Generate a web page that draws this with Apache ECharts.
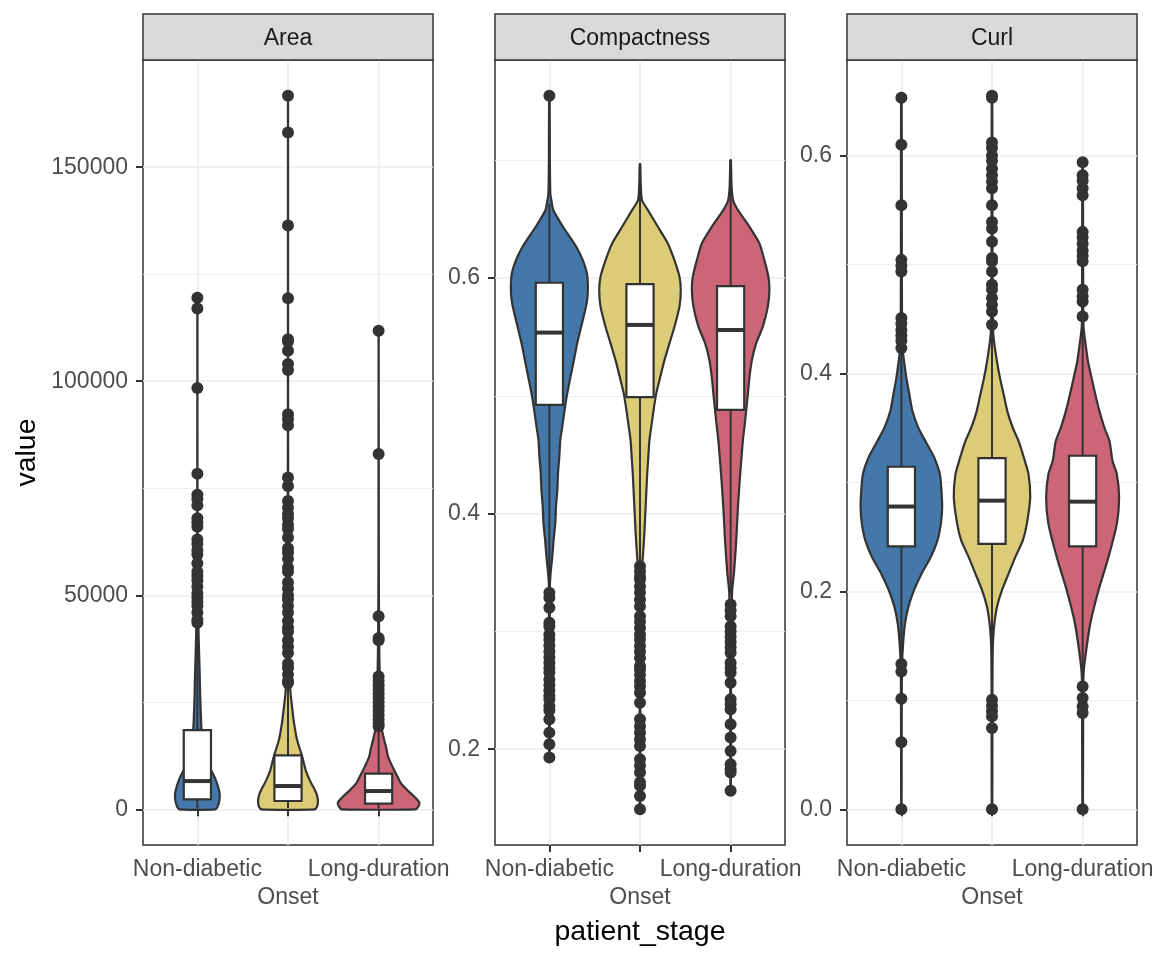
<!DOCTYPE html>
<html>
<head>
<meta charset="utf-8">
<script src="https://cdn.jsdelivr.net/npm/echarts@6/dist/echarts.min.js"></script>
<style>
html,body{margin:0;padding:0;background:#ffffff;}
#chart{width:1152px;height:960px;}
</style>
</head>
<body>
<div id="chart"></div>
<script>
// ---------------- DATA ----------------
const stages = ['Non-diabetic', 'Onset', 'Long-duration'];
const stagePos = [1, 2, 3];
const facetNames = ['Area', 'Compactness', 'Curl'];
const xTitle = 'patient_stage';
const yTitle = 'value';

// y-axis breaks (major / minor)
const areaBreaks = [0, 50000, 100000, 150000];
const areaMinor = [25000, 75000, 125000];
const compBreaks = [0.2, 0.4, 0.6];
const compMinor = [0.3, 0.5, 0.7];
const curlBreaks = [0.0, 0.2, 0.4, 0.6];
const curlMinor = [0.1, 0.3, 0.5];

// boxplot stats: [lower whisker, Q1, median, Q3, upper whisker] per stage
const areaBox = [[200, 2330, 6600, 18500, 42800], [300, 1940, 5440, 12600, 28500], [200, 1330, 4270, 8330, 18500]];
const compBox = [[0.337, 0.4924, 0.5537, 0.596, 0.6633], [0.356, 0.4989, 0.5602, 0.5949, 0.6966], [0.331, 0.4881, 0.5559, 0.5932, 0.70]];
const curlBox = [[0.136, 0.2413, 0.2779, 0.3144, 0.42], [0.128, 0.2437, 0.2833, 0.3223, 0.44], [0.12, 0.2413, 0.2824, 0.3245, 0.448]];

// outliers per stage
const areaOutNonDiabetic = [119500, 117000, 98400, 78400, 73500, 72500, 71000, 68000, 67000, 66000, 63000, 62000, 60500, 59500, 57500, 55500, 54500, 53500, 52000, 50500, 49500, 48500, 47500, 46000, 44300, 43600];
const areaOutOnset = [166700, 158100, 136400, 119400, 109800, 109300, 107100, 104000, 102600, 92300, 91100, 89700, 77500, 75500, 72000, 70500, 69000, 68000, 66500, 65500, 63500, 61000, 60000, 58500, 56500, 55500, 53000, 51500, 50000, 49000, 47500, 46000, 44000, 42500, 41500, 39500, 38000, 36500, 34000, 33000, 31500, 30000, 29500];
const areaOutLong = [111800, 83000, 45100, 40000, 39500, 31000, 30000, 29000, 28000, 27000, 26000, 25000, 24000, 23000, 22000, 21000, 20000, 19400];

const compOutNonDiabetic = [0.7548, 0.3328, 0.3285, 0.3201, 0.3074, 0.3045, 0.2975, 0.2932, 0.288, 0.283, 0.278, 0.2735, 0.269, 0.2653, 0.2593, 0.2545, 0.25, 0.2455, 0.2424, 0.2367, 0.233, 0.2254, 0.2141, 0.2042, 0.193];
const compOutOnset = [0.3554, 0.351, 0.3465, 0.344, 0.3384, 0.333, 0.327, 0.3214, 0.313, 0.308, 0.303, 0.2975, 0.2932, 0.2876, 0.283, 0.2775, 0.2706, 0.2678, 0.263, 0.258, 0.2535, 0.248, 0.2395, 0.2254, 0.2195, 0.2141, 0.2085, 0.2028, 0.1915, 0.186, 0.1802, 0.1717, 0.1689, 0.1604, 0.149];
const compOutLong = [0.3229, 0.318, 0.313, 0.3045, 0.3, 0.2955, 0.291, 0.2865, 0.2819, 0.2734, 0.269, 0.265, 0.2565, 0.2424, 0.2382, 0.2339, 0.2212, 0.21, 0.1986, 0.1873, 0.183, 0.1802, 0.1647];

const curlOutNonDiabetic = [0.653, 0.61, 0.5545, 0.5043, 0.499, 0.4936, 0.4509, 0.446, 0.44, 0.435, 0.43, 0.4235, 0.1334, 0.1264, 0.1015, 0.0615, 0];
const curlOutOnset = [0.655, 0.653, 0.612, 0.607, 0.60, 0.595, 0.588, 0.582, 0.576, 0.57, 0.5545, 0.539, 0.533, 0.521, 0.506, 0.503, 0.4936, 0.4814, 0.477, 0.4692, 0.463, 0.457, 0.4448, 0.1005, 0.095, 0.09, 0.0853, 0.0747, 0];
const curlOutLong = [0.594, 0.582, 0.577, 0.57, 0.5637, 0.53, 0.525, 0.519, 0.513, 0.508, 0.503, 0.4768, 0.471, 0.4661, 0.4524, 0.1127, 0.1021, 0.0944, 0.0884, 0];

// violin density profiles: [value, relative half-width (1 = widest violin)]
const areaViolinNonDiabetic = [[0,0.439],[800,0.505],[2300,0.544],[3900,0.544],[5400,0.505],[7000,0.446],[8600,0.366],[10500,0.268],[12500,0.195],[15000,0.134],[18500,0.102],[22000,0.085],[27000,0.068],[32000,0.056],[40000,0.032],[48000,0.017],[60000,0.007],[80000,0.002],[119500,0.001]];
const areaViolinOnset = [[0,0.659],[800,0.720],[2300,0.732],[3900,0.690],[5400,0.610],[7000,0.524],[9000,0.439],[11700,0.366],[13300,0.317],[16300,0.220],[20300,0.146],[24000,0.098],[27300,0.061],[32000,0.037],[40000,0.022],[50000,0.012],[65000,0.007],[90000,0.003],[120000,0.001],[166700,0.001]];
const areaViolinLong = [[0,0.902],[700,0.976],[1560,1.0],[3100,0.861],[4670,0.683],[6230,0.537],[7780,0.456],[9330,0.373],[10900,0.293],[12430,0.227],[14000,0.195],[15560,0.154],[17100,0.115],[18670,0.080],[21000,0.068],[25000,0.049],[30000,0.029],[40000,0.012],[60000,0.004],[111800,0.001]];

const compViolinNonDiabetic = [[0.193,0.007],[0.25,0.010],[0.3384,0.012],[0.35,0.032],[0.3638,0.073],[0.378,0.105],[0.3921,0.146],[0.4062,0.163],[0.4203,0.195],[0.4347,0.212],[0.4486,0.244],[0.4627,0.268],[0.474,0.317],[0.4881,0.373],[0.5023,0.439],[0.5164,0.520],[0.5305,0.602],[0.5447,0.683],[0.5587,0.780],[0.57,0.861],[0.5814,0.927],[0.5926,0.944],[0.604,0.920],[0.615,0.822],[0.6265,0.659],[0.635,0.500],[0.6435,0.334],[0.6576,0.098],[0.666,0.049],[0.6718,0.024],[0.70,0.012],[0.7548,0.007]];
const compViolinOnset = [[0.149,0.005],[0.2,0.007],[0.3,0.015],[0.345,0.032],[0.3582,0.059],[0.378,0.098],[0.4062,0.139],[0.4347,0.178],[0.4458,0.200],[0.4627,0.232],[0.474,0.278],[0.4881,0.334],[0.5023,0.400],[0.5164,0.498],[0.5305,0.602],[0.5447,0.724],[0.5587,0.846],[0.5757,0.968],[0.5898,1.0],[0.6011,0.968],[0.615,0.846],[0.6294,0.683],[0.6435,0.439],[0.6576,0.195],[0.666,0.049],[0.6774,0.020],[0.6966,0.007]];
const compViolinLong = [[0.1647,0.007],[0.25,0.010],[0.3328,0.034],[0.35,0.083],[0.378,0.139],[0.4062,0.180],[0.4347,0.237],[0.4627,0.302],[0.474,0.341],[0.5023,0.424],[0.5164,0.463],[0.5305,0.522],[0.5447,0.627],[0.5587,0.790],[0.5757,0.912],[0.5898,0.951],[0.6011,0.927],[0.615,0.829],[0.6294,0.707],[0.6435,0.463],[0.6576,0.180],[0.666,0.061],[0.6774,0.024],[0.70,0.007]];

const curlViolinNonDiabetic = [[0,0.005],[0.06,0.007],[0.1,0.010],[0.1334,0.015],[0.1401,0.024],[0.1554,0.049],[0.1706,0.090],[0.1858,0.171],[0.2011,0.310],[0.2163,0.495],[0.2315,0.722],[0.2468,0.885],[0.262,0.968],[0.2772,1.0],[0.2925,0.983],[0.3077,0.944],[0.323,0.805],[0.3382,0.585],[0.3503,0.415],[0.366,0.268],[0.381,0.195],[0.396,0.122],[0.4113,0.066],[0.4204,0.037],[0.45,0.015],[0.55,0.010],[0.653,0.007]];
const curlViolinOnset = [[0,0.007],[0.1,0.010],[0.14,0.015],[0.1554,0.027],[0.1706,0.059],[0.1858,0.122],[0.2011,0.244],[0.2163,0.407],[0.2315,0.571],[0.2468,0.756],[0.262,0.854],[0.2864,0.937],[0.3077,0.895],[0.323,0.780],[0.3382,0.651],[0.35,0.512],[0.365,0.378],[0.381,0.285],[0.396,0.195],[0.411,0.122],[0.43,0.049],[0.4417,0.024],[0.5,0.012],[0.655,0.007]];
const curlViolinLong = [[0,0.007],[0.11,0.015],[0.125,0.024],[0.14,0.066],[0.1706,0.188],[0.2011,0.390],[0.2315,0.634],[0.262,0.839],[0.2864,0.895],[0.3077,0.839],[0.32,0.732],[0.338,0.659],[0.35,0.537],[0.365,0.415],[0.381,0.310],[0.396,0.220],[0.411,0.132],[0.43,0.061],[0.4417,0.024],[0.45,0.015],[0.595,0.007]];

// ---------------- STYLE / LAYOUT ----------------
const FILLS = ['#4477AA', '#DDCC77', '#CC6677'];
const INK = '#333333';
const GRIDC = '#EBEBEB';
const FONT = '"Liberation Sans", Arial, Helvetica, sans-serif';
const PANEL_TOP = 60, PANEL_H = 785, PANEL_W = 290, STRIP_H = 46;
const PANEL_LEFTS = [143, 495, 847];
const VIOLIN_HALF = 0.45;   // ggplot violin width 0.9
const BOX_HALF = 0.15;      // boxplot width 0.3

const facets = [
  { name: facetNames[0], breaks: areaBreaks, minor: areaMinor, box: areaBox,
    outliers: [areaOutNonDiabetic, areaOutOnset, areaOutLong],
    violins: [areaViolinNonDiabetic, areaViolinOnset, areaViolinLong],
    fmt: v => String(v) },
  { name: facetNames[1], breaks: compBreaks, minor: compMinor, box: compBox,
    outliers: [compOutNonDiabetic, compOutOnset, compOutLong],
    violins: [compViolinNonDiabetic, compViolinOnset, compViolinLong],
    fmt: v => v.toFixed(1) },
  { name: facetNames[2], breaks: curlBreaks, minor: curlMinor, box: curlBox,
    outliers: [curlOutNonDiabetic, curlOutOnset, curlOutLong],
    violins: [curlViolinNonDiabetic, curlViolinOnset, curlViolinLong],
    fmt: v => v.toFixed(1) }
];

// ggplot-style continuous range: data range expanded by 5% each side
facets.forEach(f => {
  let vals = [];
  f.outliers.forEach(a => vals = vals.concat(a));
  f.violins.forEach(p => p.forEach(d => vals.push(d[0])));
  f.box.forEach(b => vals = vals.concat(b));
  const lo = Math.min(...vals), hi = Math.max(...vals);
  const pad = (hi - lo) * 0.05;
  f.min = lo - pad; f.max = hi + pad;
});

const grids = [], xAxes = [], yAxes = [], series = [], graphics = [];
const labelStyle = { fontFamily: FONT, fontSize: 23, color: '#4D4D4D' };
const tickStyle = { show: true, length: 7, lineStyle: { color: INK, width: 2 } };

function xAxisFor(i, positions, margin, withName) {
  return {
    type: 'value', gridIndex: i, min: 0.4, max: 3.6, position: 'bottom',
    name: withName ? xTitle : '', nameLocation: 'middle', nameGap: 73,
    nameTextStyle: { fontFamily: FONT, fontSize: 28.5, color: '#000000' },
    axisLine: { show: false },
    axisTick: Object.assign({ customValues: positions }, tickStyle),
    axisLabel: Object.assign({ show: true, customValues: positions, margin: margin, hideOverlap: false,
      formatter: v => stages[stagePos.indexOf(Math.round(v))] }, labelStyle),
    splitLine: { show: true, lineStyle: { color: GRIDC, width: 1.6 } }
  };
}

facets.forEach((f, i) => {
  grids.push({ left: PANEL_LEFTS[i], top: PANEL_TOP, width: PANEL_W, height: PANEL_H,
    show: true, backgroundColor: '#ffffff', borderColor: INK, borderWidth: 1.5,
    containLabel: false, outerBoundsMode: 'none' });

  // outer stages on the first row, middle stage on the second row (ggplot n.dodge = 2)
  xAxes.push(xAxisFor(i, [stagePos[0], stagePos[2]], 13, false));
  xAxes.push(xAxisFor(i, [stagePos[1]], 41, i === 1));

  // major y axis
  yAxes.push({
    type: 'value', gridIndex: i, min: f.min, max: f.max, position: 'left',
    name: i === 0 ? yTitle : '', nameLocation: 'middle', nameGap: 101, nameRotate: 90,
    nameTextStyle: { fontFamily: FONT, fontSize: 28.5, color: '#000000' },
    axisLine: { show: false },
    axisTick: Object.assign({ customValues: f.breaks }, tickStyle),
    axisLabel: Object.assign({ show: true, customValues: f.breaks, margin: 15, formatter: v => f.fmt(v) }, labelStyle),
    splitLine: { show: true, lineStyle: { color: GRIDC, width: 1.6 } }
  });
  // minor grid lines axis
  yAxes.push({
    type: 'value', gridIndex: i, min: f.min, max: f.max, position: 'left',
    axisLine: { show: false },
    axisTick: { show: false, customValues: f.minor },
    axisLabel: { show: false, customValues: f.minor },
    splitLine: { show: true, lineStyle: { color: GRIDC, width: 0.9 } }
  });

  const xIdx = i * 2, yIdx = i * 2;

  // violins
  series.push({
    type: 'custom', xAxisIndex: xIdx, yAxisIndex: yIdx, z: 2, silent: true,
    data: f.violins.map((p, k) => [stagePos[k]]),
    renderItem: (params, api) => {
      const prof = f.violins[params.dataIndex];
      const cx = api.value(0);
      const right = prof.map(d => api.coord([cx + d[1] * VIOLIN_HALF, d[0]]));
      const left = prof.slice().reverse().map(d => api.coord([cx - d[1] * VIOLIN_HALF, d[0]]));
      return { type: 'polygon', shape: { points: right.concat(left), smooth: 0.2 },
        style: { fill: FILLS[params.dataIndex], stroke: INK, lineWidth: 2.2, lineJoin: 'round' } };
    }
  });

  // boxplots
  series.push({
    type: 'custom', xAxisIndex: xIdx, yAxisIndex: yIdx, z: 3, silent: true,
    data: f.box.map((b, k) => [stagePos[k]].concat(b)),
    renderItem: (params, api) => {
      const cx = api.value(0);
      const lo = api.value(1), q1 = api.value(2), md = api.value(3), q3 = api.value(4), hi = api.value(5);
      const pLo = api.coord([cx, lo]), pQ1 = api.coord([cx, q1]), pQ3 = api.coord([cx, q3]), pHi = api.coord([cx, hi]);
      const a = api.coord([cx - BOX_HALF, q3]), b = api.coord([cx + BOX_HALF, q1]);
      const mL = api.coord([cx - BOX_HALF, md]), mR = api.coord([cx + BOX_HALF, md]);
      return { type: 'group', children: [
        { type: 'line', shape: { x1: pLo[0], y1: pLo[1], x2: pQ1[0], y2: pQ1[1] }, style: { stroke: INK, lineWidth: 2 } },
        { type: 'line', shape: { x1: pQ3[0], y1: pQ3[1], x2: pHi[0], y2: pHi[1] }, style: { stroke: INK, lineWidth: 2 } },
        { type: 'rect', shape: { x: a[0], y: a[1], width: b[0] - a[0], height: b[1] - a[1] },
          style: { fill: '#ffffff', stroke: INK, lineWidth: 2.2 } },
        { type: 'line', shape: { x1: mL[0], y1: mL[1], x2: mR[0], y2: mR[1] }, style: { stroke: INK, lineWidth: 4 } }
      ] };
    }
  });

  // outliers
  const pts = [];
  f.outliers.forEach((arr, k) => arr.forEach(v => pts.push([stagePos[k], v])));
  series.push({
    type: 'scatter', xAxisIndex: xIdx, yAxisIndex: yIdx, z: 4, silent: true,
    symbol: 'circle', symbolSize: 12, itemStyle: { color: INK, opacity: 1 },
    data: pts
  });

  // facet strip
  graphics.push({ type: 'rect', silent: true, z: 10,
    shape: { x: PANEL_LEFTS[i], y: PANEL_TOP - STRIP_H, width: PANEL_W, height: STRIP_H },
    style: { fill: '#D9D9D9', stroke: INK, lineWidth: 1.5 } });
  graphics.push({ type: 'text', silent: true, z: 11,
    x: PANEL_LEFTS[i] + PANEL_W / 2, y: PANEL_TOP - STRIP_H / 2 + 2,
    style: { text: f.name, fill: '#1A1A1A', font: '23px ' + FONT, align: 'center', verticalAlign: 'middle' } });
});

const chart = echarts.init(document.getElementById('chart'), null, { renderer: 'canvas' });
chart.setOption({
  animation: false,
  backgroundColor: '#ffffff',
  textStyle: { fontFamily: FONT },
  grid: grids, xAxis: xAxes, yAxis: yAxes, series: series,
  graphic: graphics
});
</script>
</body>
</html>
